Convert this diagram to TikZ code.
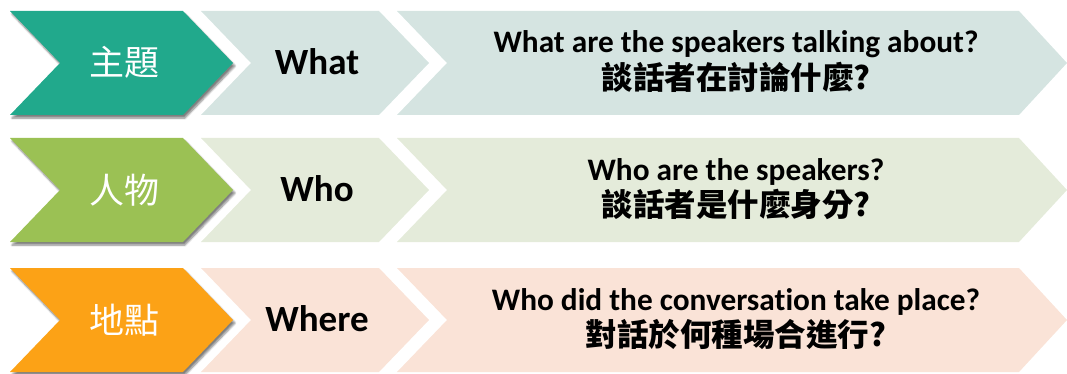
\documentclass[tikz,border=0pt]{standalone}
\usepackage{fontspec}
\setmainfont{Carlito}[Ligatures={NoCommon}]
\newfontfamily\zhfont{Noto Sans CJK TC}
\usetikzlibrary{shadows.blur}

\definecolor{topicdark}{RGB}{33,169,140}
\definecolor{topiclight}{RGB}{213,228,225}
\definecolor{persondark}{RGB}{155,193,84}
\definecolor{personlight}{RGB}{228,235,218}
\definecolor{placedark}{RGB}{252,162,22}
\definecolor{placelight}{RGB}{250,227,215}

\tikzset{
    tagshadow/.style={blur shadow={shadow xshift=2pt, shadow yshift=-3pt, shadow blur steps=6, shadow opacity=50}},
    tagtext/.style={anchor=base, text=white, font=\zhfont\fontsize{35}{40}\selectfont},
    keytext/.style={anchor=base, font=\bfseries\fontsize{37}{42}\selectfont},
    entext/.style={anchor=base, font=\bfseries\fontsize{31.3}{36}\selectfont},
    zhtext/.style={anchor=base, font=\zhfont\bfseries\fontsize{31.5}{36}\selectfont},
}

\begin{document}
\begin{tikzpicture}[x=1pt, y=-1pt]
    \def\ra{11}
    \def\rb{138}
    \def\rc{268}

    \useasboundingbox (0,0) rectangle (1067,374);

    % row 1
    \fill[topiclight] (397,\ra) -- (1019,\ra) -- (1067,\ra+52) -- (1019,\ra+104) -- (397,\ra+104) -- (447,\ra+52) -- cycle;
    \fill[topiclight] (201,\ra) -- (379,\ra) -- (429,\ra+52) -- (379,\ra+104) -- (201,\ra+104) -- (251,\ra+52) -- cycle;
    \fill[topicdark, tagshadow] (10,\ra) -- (183,\ra) -- (233,\ra+52) -- (183,\ra+104) -- (10,\ra+104) -- (60,\ra+52) -- cycle;

    % row 2
    \fill[personlight] (397,\rb) -- (1019,\rb) -- (1067,\rb+52) -- (1019,\rb+104) -- (397,\rb+104) -- (447,\rb+52) -- cycle;
    \fill[personlight] (201,\rb) -- (379,\rb) -- (429,\rb+52) -- (379,\rb+104) -- (201,\rb+104) -- (251,\rb+52) -- cycle;
    \fill[persondark, tagshadow] (10,\rb) -- (183,\rb) -- (233,\rb+52) -- (183,\rb+104) -- (10,\rb+104) -- (60,\rb+52) -- cycle;

    % row 3
    \fill[placelight] (397,\rc) -- (1019,\rc) -- (1067,\rc+52) -- (1019,\rc+104) -- (397,\rc+104) -- (447,\rc+52) -- cycle;
    \fill[placelight] (201,\rc) -- (379,\rc) -- (429,\rc+52) -- (379,\rc+104) -- (201,\rc+104) -- (251,\rc+52) -- cycle;
    \fill[placedark, tagshadow] (10,\rc) -- (183,\rc) -- (233,\rc+52) -- (183,\rc+104) -- (10,\rc+104) -- (60,\rc+52) -- cycle;

    \node[tagtext] (topic) at (124,\ra+65) {主題};
    \node[keytext] (what) at (317,\ra+63.5) {What};
    \node[entext] (whaten) at (736,\ra+42) {What are the speakers talking about?};
    \node[zhtext] (whatzh) at (736,\ra+78.5) {談話者在討論什麼?};

    \node[tagtext] (person) at (124,\rb+65) {人物};
    \node[keytext] (who) at (317,\rb+63.5) {Who};
    \node[entext] (whoen) at (736,\rb+42) {Who are the speakers?};
    \node[zhtext] (whozh) at (736,\rb+78.5) {談話者是什麼身分?};

    \node[tagtext] (place) at (124,\rc+65) {地點};
    \node[keytext] (where) at (317,\rc+63.5) {Where};
    \node[entext] (whereen) at (736,\rc+42) {Who did the conversation take place?};
    \node[zhtext] (wherezh) at (736,\rc+78.5) {對話於何種場合進行?};
\end{tikzpicture}
\end{document}
